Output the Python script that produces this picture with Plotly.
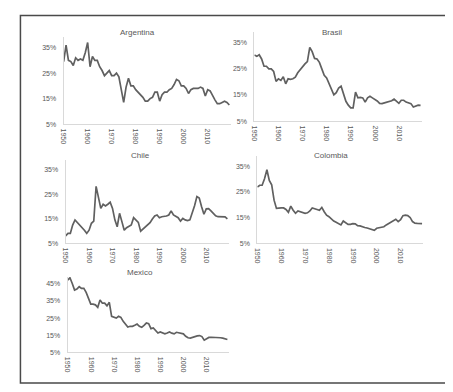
import plotly.graph_objects as go

years = list(range(1950, 2020))

argentina = [29.5, 36, 30, 29.5, 28, 31, 30, 30.5, 30, 33,
             37, 27.5, 31.5, 30, 30, 27.5, 26, 24, 25, 26,
             24, 24, 25, 23.5, 18.5, 13.5, 19.5, 23, 20, 20,
             18.5, 17.5, 16.5, 15.5, 14, 14, 15, 15.5, 17.5, 17.5,
             14, 16.5, 17.5, 17.5, 18.5, 19, 20.5, 22.5, 22, 20,
             20, 19, 17, 18.5, 19, 19, 19, 19.5, 19, 16,
             18.5, 18, 16, 14.5, 13, 13, 13.5, 14, 13.5, 12.5]

brasil = [30.3, 29.8, 30.4, 28.8, 26, 26, 25, 25, 24, 20.2,
          21.2, 20.6, 22, 19.3, 21.2, 21, 21.2, 21.8, 23.5, 24.7,
          26, 26.9, 27.8, 33.2, 31.6, 29, 28.8, 27.5, 25, 22.5,
          21.5, 19.3, 17.7, 15.1, 15.9, 17.7, 18.4, 15.5, 12.6, 11.1,
          10.1, 10.1, 16.1, 13.9, 14.1, 13.9, 12.3, 13.9, 14.5, 13.9,
          13.4, 12.7, 11.8, 11.7, 12, 12.3, 12.6, 12.8, 13.4, 12.6,
          11.8, 13, 13, 12.3, 12, 11.7, 10.4, 10.7, 11.1, 11]

chile = [8.0, 9.0, 9.0, 12.4, 14.5, 13.5, 12.1, 11.4, 10.3, 9.0,
         10.3, 13.1, 14.0, 28.2, 23.1, 19.2, 20.9, 20.2, 20.9, 21.7,
         19.2, 14.5, 11.7, 17.2, 13.8, 10.3, 11.3, 11.7, 12.4, 15.4,
         14.5, 13.5, 9.9, 10.8, 11.7, 12.4, 13.4, 14.9, 16.1, 16.5,
         15.4, 15.8, 15.8, 16.1, 16.5, 18.2, 16.5, 16.1, 15.4, 14.0,
         15.1, 14.5, 14.2, 14.5, 17.2, 20.3, 24.0, 23.4, 19.9, 16.8,
         19.0, 19.1, 18.2, 17.2, 16.2, 15.8, 15.8, 15.8, 15.7, 14.9]

colombia = [26.9, 27.6, 27.6, 30.1, 33.6, 29.5, 27.8, 21.8, 18.6, 18.8,
            18.8, 18.8, 18.2, 17.1, 19.5, 17.9, 16.7, 17.6, 17.3, 16.9,
            16.7, 16.9, 17.6, 18.8, 18.6, 18.2, 17.9, 19.0, 17.3, 16.0,
            15.4, 14.4, 13.7, 13.2, 12.8, 12.2, 13.7, 13.2, 12.4, 12.4,
            12.7, 12.6, 11.9, 11.8, 11.4, 11.2, 11.0, 10.8, 10.5, 10.1,
            10.9, 11.2, 11.2, 11.5, 12.2, 12.8, 13.5, 14.0, 14.4, 13.5,
            14.2, 15.8, 16.0, 15.8, 15.1, 13.5, 12.9, 12.8, 12.8, 12.7]

mexico = [47.1, 48.5, 45.2, 41.3, 41.9, 43.3, 42.3, 42.3, 40.0, 36.9,
          33.1, 33.1, 32.7, 31.3, 35.6, 33.7, 33.7, 32.1, 34.2, 26.0,
          25.4, 25.0, 26.0, 25.4, 23.1, 21.2, 19.8, 20.2, 20.2, 20.8,
          21.5, 20.2, 19.6, 20.8, 22.1, 21.7, 18.8, 19.2, 17.7, 16.3,
          16.9, 16.3, 15.8, 16.3, 16.9, 16.2, 15.8, 16.7, 16.5, 16.3,
          15.8, 14.4, 13.5, 13.3, 13.8, 14.2, 14.6, 14.8, 14.2, 12.1,
          13.1, 13.7, 13.8, 13.8, 13.7, 13.5, 13.5, 13.3, 12.9, 12.5]

names = ["Argentina", "Brasil", "Chile", "Colombia", "Mexico"]
series = [argentina, brasil, chile, colombia, mexico]

x_tickvals = [1950, 1960, 1970, 1980, 1990, 2000, 2010]
x_ticktext = ["1950", "1960", "1970", "1980", "1990", "2000", "2010"]
y_ticks_small = [5, 15, 25, 35]
y_ticks_mex = [5, 15, 25, 35, 45]

W, H = 453, 392
# panel geometry in pixels: x0, x1, y_top, y_bottom, ymax, title x, title y
panels = [
    (53, 221, 29.6, 117, 39, 127, 25),
    (245, 413.5, 24.5, 114, 39, 323, 25),
    (55, 219, 153, 237, 39, 130, 149),
    (248, 415, 149, 237.3, 39, 322, 149),
    (57, 219, 271, 347, 49, 130, 267),
]

LINE = "#606060"
TXT = "#595959"
AX = "#d9d9d9"
FONT = "Liberation Sans"

fig = go.Figure()
layout = {}
annotations = []
for i, (nm, vals, p) in enumerate(zip(names, series, panels)):
    x0, x1, yt, yb, ymax, tx, ty = p
    sfx = "" if i == 0 else str(i + 1)
    fig.add_trace(go.Scatter(
        x=years, y=vals, mode="lines",
        line=dict(color=LINE, width=1.7),
        xaxis="x" + sfx, yaxis="y" + sfx, showlegend=False,
        hoverinfo="skip"))
    yt_vals = y_ticks_mex if nm == "Mexico" else y_ticks_small
    layout["xaxis" + sfx] = dict(
        domain=[x0 / W, x1 / W], range=[1950, 2019.5],
        anchor="y" + sfx, showgrid=False, zeroline=False,
        showline=True, linecolor=AX, linewidth=1,
        tickvals=x_tickvals, ticktext=x_ticktext, tickangle=90,
        ticks="", tickfont=dict(family=FONT, size=7, color=TXT),
        ticklabelstandoff=2)
    layout["yaxis" + sfx] = dict(
        domain=[1 - yb / H, 1 - yt / H], range=[5, ymax],
        anchor="x" + sfx, showgrid=False, zeroline=False,
        showline=True, linecolor=AX, linewidth=1,
        tickvals=yt_vals, ticktext=[f"{v}%" for v in yt_vals],
        ticks="", tickfont=dict(family=FONT, size=7, color=TXT),
        ticklabelstandoff=5)
    annotations.append(dict(
        text=nm, x=tx / W, y=1 - ty / H, xref="paper", yref="paper",
        showarrow=False, xanchor="center", yanchor="middle",
        font=dict(family=FONT, size=8, color=TXT)))

fig.update_layout(
    width=W, height=H,
    margin=dict(l=0, r=0, t=0, b=0),
    paper_bgcolor="white", plot_bgcolor="white",
    annotations=annotations,
    shapes=[dict(type="rect", xref="paper", yref="paper",
                 x0=9.5 / W, x1=440 / W, y0=1 - 378 / H, y1=1 - 7.5 / H,
                 line=dict(color="#4a4a4a", width=1.5))],
    **layout)

fig.write_html("out.html")
